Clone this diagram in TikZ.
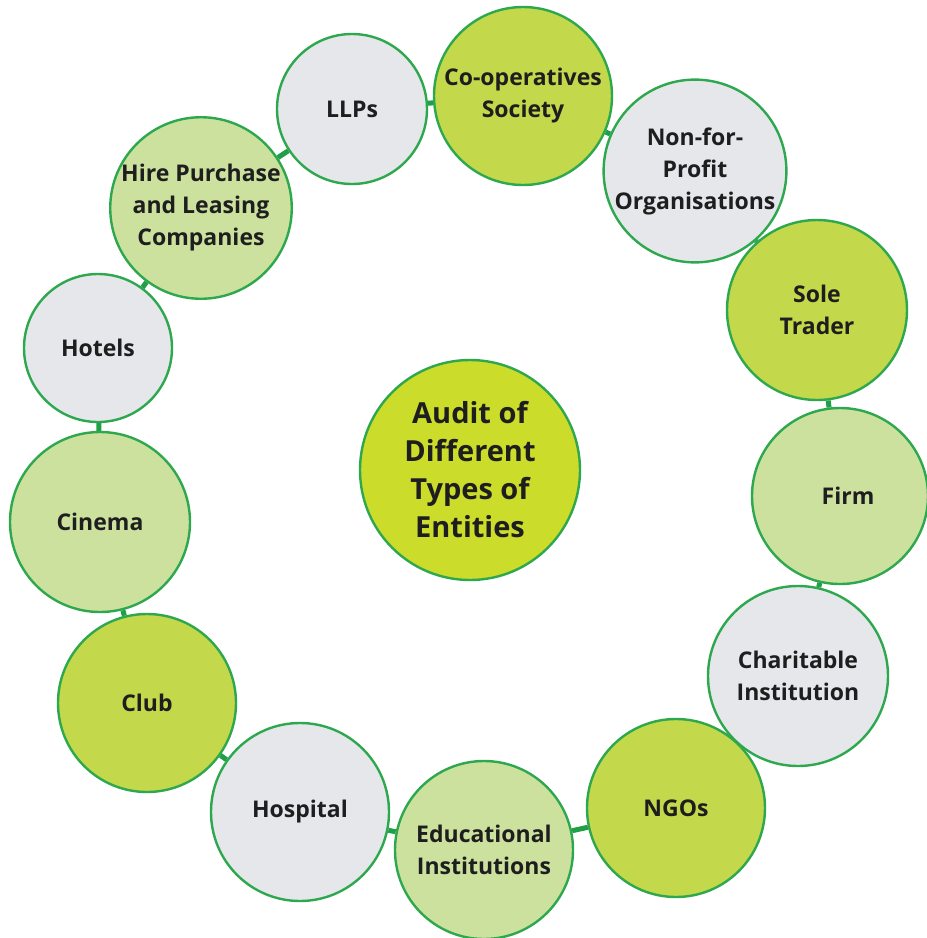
\documentclass[tikz,border=0pt]{standalone}
\usepackage{fontspec}
\setmainfont{Open Sans}
\usetikzlibrary{backgrounds}
\definecolor{ringc}{HTML}{2EA84E}
\definecolor{connc}{HTML}{1F9F48}
\definecolor{grayfill}{HTML}{E6E7EB}
\definecolor{lightgreen}{HTML}{CCE19E}
\definecolor{yellowgreen}{HTML}{C3D84A}
\definecolor{centerfill}{HTML}{CBDC2A}
\definecolor{txt}{HTML}{1E1E1E}
\begin{document}
\begin{tikzpicture}[x=1pt,y=-1pt,
  ent/.style={circle, draw=ringc, line width=2.4pt, inner sep=0pt, align=center,
    font=\fontsize{23}{32}\selectfont\bfseries, text=txt, minimum size=#1},
  ent/.default=178pt,
  gr/.style={fill=grayfill},
  lg/.style={fill=lightgreen},
  yg/.style={fill=yellowgreen},
  conn/.style={draw=connc, line width=5pt}]
\useasboundingbox (0,0) rectangle (927,938);

\node[ent=220pt, fill=centerfill, font=\fontsize{29}{38}\selectfont\bfseries] (center) at (470,470) {Audit of\\Different\\Types of\\Entities};

\node[ent=150pt, gr] (llp) at (352,109) {LLPs};
\node[ent, yg] (coop) at (523,96) {Co-operatives\\Society};
\node[ent, gr] (nfp) at (695,171) {Non-for-\\Profit\\Organisations};
\node[ent=180pt, yg] (sole) at (817,310) {Sole\\Trader};
\node[ent=176pt, lg] (firm) at (840,496) {\hspace*{16pt}Firm};
\node[ent=180pt, gr] (char) at (798,676) {Charitable\\Institution};
\node[ent, yg] (ngo) at (676,808) {NGOs};
\node[ent, lg] (edu) at (484,850) {Educational\\Institutions};
\node[ent, gr] (hosp) at (300,812) {Hospital};
\node[ent, yg] (club) at (147,703) {Club};
\node[ent=180pt, lg] (cin) at (100,522) {Cinema};
\node[ent=148pt, gr] (hot) at (98,348) {Hotels};
\node[ent, lg] (hire) at (201,208) {Hire Purchase\\and Leasing\\Companies};

\begin{scope}[on background layer]
\fill[white] (0,0) rectangle (927,938);
\draw[conn] (llp) -- (coop);
\draw[conn] (coop) -- (nfp);
\draw[conn] (nfp) -- (sole);
\draw[conn] (sole) -- (firm);
\draw[conn] (firm) -- (char);
\draw[conn] (char) -- (ngo);
\draw[conn] (ngo) -- (edu);
\draw[conn] (edu) -- (hosp);
\draw[conn] (hosp) -- (club);
\draw[conn] (club) -- (cin);
\draw[conn] (cin) -- (hot);
\draw[conn] (hot) -- (hire);
\draw[conn] (hire) -- (llp);
\end{scope}
\end{tikzpicture}
\end{document}
